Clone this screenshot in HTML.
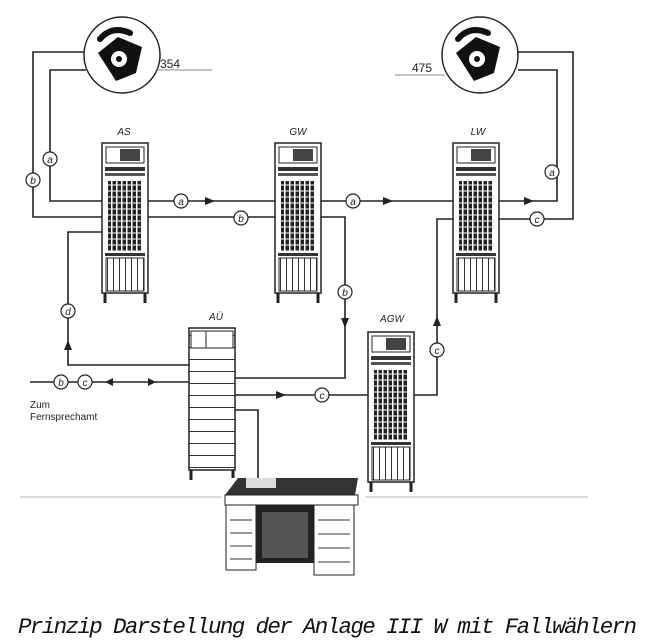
<!DOCTYPE html>
<html><head><meta charset="utf-8"><style>
body{margin:0;background:#fff;width:654px;height:642px;overflow:hidden}
svg{display:block}
.l{stroke:#222;stroke-width:1.6;fill:none}
.c{fill:#fff;stroke:#222;stroke-width:1.2}
.t{font-family:"Liberation Sans",sans-serif;font-style:italic;font-size:10px;fill:#222;text-anchor:middle}
</style></head><body>
<svg width="654" height="642" viewBox="0 0 654 642">
<defs>
<pattern id="g" width="5" height="6" patternUnits="userSpaceOnUse"><rect width="5" height="6" fill="#fff"/><rect x="0.5" y="0.5" width="3.5" height="5" fill="#222"/></pattern>
<pattern id="h" width="6" height="12" patternUnits="userSpaceOnUse"><rect width="6" height="12" fill="#fff"/><rect y="11" width="6" height="1.2" fill="#333"/></pattern>
<pattern id="v" width="6" height="10" patternUnits="userSpaceOnUse"><rect width="6" height="10" fill="#fff"/><rect x="5" width="1.2" height="10" fill="#333"/></pattern>
<g id="rack">
<rect x="0" y="0" width="46" height="150" fill="#fff" stroke="#222" stroke-width="1.5"/>
<rect x="4" y="4" width="38" height="16" fill="#fff" stroke="#222"/>
<rect x="18" y="6" width="20" height="12" fill="#444"/>
<rect x="3" y="24" width="40" height="4" fill="#333"/>
<rect x="3" y="30" width="40" height="3" fill="#555"/>
<rect x="6" y="38" width="34" height="70" fill="url(#g)"/>
<rect x="3" y="110" width="40" height="3" fill="#333"/>
<rect x="4" y="115" width="38" height="33" fill="url(#v)" stroke="#222"/>
<path d="M3 150 v10 M43 150 v10" stroke="#222" stroke-width="3"/>
</g>
<g id="phone">
<path d="M-24 -2 L-4 -18 L20 -8 L14 18 L-6 26 Z" fill="#111"/>
<circle cx="-3" cy="4" r="8" fill="#fff"/><circle cx="-3" cy="4" r="3" fill="#111"/>
<path d="M-22 -16 q12 -14 30 -6" stroke="#111" stroke-width="6" fill="none" stroke-linecap="round"/>
</g>
</defs>
<!-- lines -->
<path class="l" d="M86 52 H33 V217 H345 V378 H235"/>
<path class="l" d="M86 70 H50 V201 H557 V70 H518"/>
<path class="l" d="M518 52 H573 V219 H437 V395 H413"/>
<path class="l" d="M102 232 H68 V365 H190"/>
<path class="l" d="M30 382 H190 M235 395 H370"/>
<path class="l" d="M190 365 L235 395 M225 395 V410 H258 V478" stroke-width="1.2"/>
<!-- phones -->
<circle cx="122" cy="55" r="38" fill="#fff" stroke="#222" stroke-width="1.5"/>
<use href="#phone" x="122" y="55"/>
<text x="160" y="68" font-family="Liberation Sans,sans-serif" font-size="12" fill="#222">354</text>
<line x1="158" y1="70" x2="212" y2="70" stroke="#888"/>
<circle cx="480" cy="55" r="38" fill="#fff" stroke="#222" stroke-width="1.5"/>
<use href="#phone" x="480" y="55"/>
<text x="412" y="72" font-family="Liberation Sans,sans-serif" font-size="12" fill="#222">475</text>
<line x1="395" y1="75" x2="445" y2="75" stroke="#888"/>
<!-- arrows -->
<g fill="#222">
<path d="M205 197 l10 4 l-10 4z"/><path d="M383 197 l10 4 l-10 4z"/><path d="M524 197 l10 4 l-10 4z"/>
<path d="M341 318 l4 10 l4-10z"/><path d="M433 326 l4-10 l4 10z"/><path d="M64 350 l4-10 l4 10z"/>
<path d="M276 391 l10 4 l-10 4z"/><path d="M113 378 l-8 4 l8 4z"/><path d="M148 378 l8 4 l-8 4z"/>
</g>
<!-- circles -->
<g>
<circle class="c" cx="50" cy="159" r="7"/><text class="t" x="50" y="163">a</text>
<circle class="c" cx="33" cy="180" r="7"/><text class="t" x="33" y="184">b</text>
<circle class="c" cx="181" cy="201" r="7"/><text class="t" x="181" y="205">a</text>
<circle class="c" cx="353" cy="201" r="7"/><text class="t" x="353" y="205">a</text>
<circle class="c" cx="241" cy="218" r="7"/><text class="t" x="241" y="222">b</text>
<circle class="c" cx="345" cy="292" r="7"/><text class="t" x="345" y="296">b</text>
<circle class="c" cx="552" cy="172" r="7"/><text class="t" x="552" y="176">a</text>
<circle class="c" cx="537" cy="219" r="7"/><text class="t" x="537" y="223">c</text>
<circle class="c" cx="437" cy="350" r="7"/><text class="t" x="437" y="354">c</text>
<circle class="c" cx="68" cy="311" r="7"/><text class="t" x="68" y="315">d</text>
<circle class="c" cx="61" cy="382" r="7"/><text class="t" x="61" y="386">b</text>
<circle class="c" cx="85" cy="382" r="7"/><text class="t" x="85" y="386">c</text>
<circle class="c" cx="322" cy="395" r="7"/><text class="t" x="322" y="399">c</text>
</g>
<!-- racks -->
<use href="#rack" x="102" y="143"/><use href="#rack" x="275" y="143"/><use href="#rack" x="453" y="143"/>
<use href="#rack" x="368" y="332"/>
<text class="t" x="124" y="135">AS</text><text class="t" x="298" y="135">GW</text><text class="t" x="478" y="135">LW</text>
<text class="t" x="216" y="320">AÜ</text><text class="t" x="392" y="322">AGW</text>
<!-- AU -->
<rect x="189" y="328" width="46" height="142" fill="url(#h)" stroke="#222" stroke-width="1.5"/>
<rect x="191" y="331" width="42" height="17" fill="#fff" stroke="#222"/><line x1="206" y1="331" x2="206" y2="348" stroke="#222"/>
<path d="M191 470 v10 M233 470 v8" stroke="#222" stroke-width="3"/>
<text x="30" y="408" font-family="Liberation Sans,sans-serif" font-size="10" fill="#222">Zum</text>
<text x="30" y="420" font-family="Liberation Sans,sans-serif" font-size="10" fill="#222">Fernsprechamt</text>
<!-- ground -->
<line x1="20" y1="497" x2="222" y2="497" stroke="#bbb"/><line x1="365" y1="497" x2="588" y2="497" stroke="#bbb"/>
<!-- desk -->
<path d="M238 478 H358 L355 495 H225 Z" fill="#333"/>
<rect x="246" y="478" width="30" height="10" fill="#ddd"/>
<rect x="225" y="495" width="133" height="10" fill="#fff" stroke="#222"/>
<rect x="226" y="505" width="30" height="65" fill="#fff" stroke="#222"/>
<rect x="314" y="505" width="40" height="70" fill="#fff" stroke="#222"/>
<rect x="256" y="505" width="58" height="58" fill="#222"/>
<rect x="262" y="512" width="46" height="46" fill="#555"/>
<g stroke="#333"><path d="M230 520h22M230 533h22M230 546h22M230 559h22M318 520h32M318 534h32M318 548h32M318 562h32"/></g>
<text x="18" y="633" font-family="Liberation Mono,monospace" font-style="italic" font-size="22.5" fill="#111" textLength="619">Prinzip Darstellung der Anlage III W mit Fallwählern</text>
</svg>
</body></html>
